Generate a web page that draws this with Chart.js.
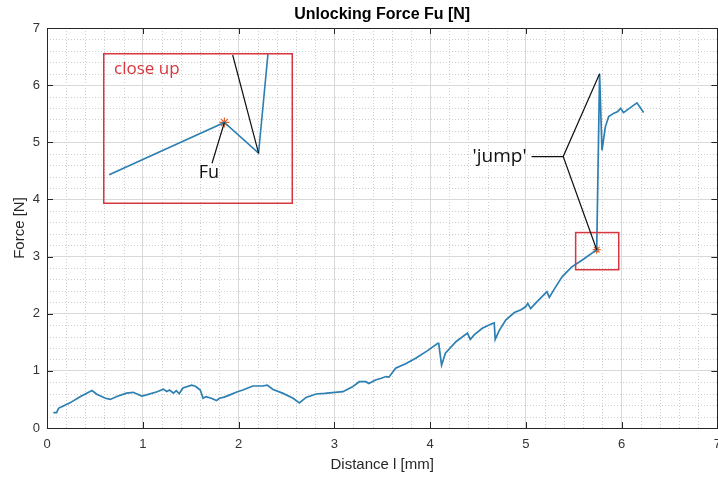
<!DOCTYPE html>
<html>
<head>
<meta charset="utf-8">
<script src="https://cdn.jsdelivr.net/npm/chart.js@4.4.1/dist/chart.umd.min.js"></script>
<style>
  html, body { margin: 0; padding: 0; background: #fff; }
  #wrap { position: relative; width: 718px; height: 477px; overflow: hidden; }
  #main { position: absolute; left: 0; top: 0; }
  #inset { position: absolute; }
</style>
</head>
<body>
<div id="wrap">
  <canvas id="main" width="730" height="477"></canvas>
  <canvas id="inset" width="190" height="151"></canvas>
</div>
<script>
const distance = [0.066, 0.10, 0.12, 0.17, 0.24, 0.35, 0.415, 0.47, 0.52, 0.61,
  0.66, 0.73, 0.83, 0.90, 0.99, 1.04, 1.15, 1.215, 1.25, 1.28,
  1.32, 1.35, 1.38, 1.42, 1.51, 1.55, 1.60, 1.63, 1.66, 1.715,
  1.77, 1.80, 1.85, 1.91, 1.975, 2.045, 2.15, 2.25, 2.30, 2.36,
  2.46, 2.57, 2.635, 2.705, 2.81, 2.90, 2.98, 3.09, 3.19, 3.26,
  3.33, 3.36, 3.43, 3.49, 3.54, 3.57, 3.64, 3.75, 3.85, 3.97,
  4.08, 4.09, 4.12, 4.16, 4.27, 4.39, 4.42, 4.46, 4.545, 4.65,
  4.67, 4.68, 4.72, 4.79, 4.88, 4.95, 5.00, 5.02, 5.05, 5.10,
  5.205, 5.22, 5.245, 5.30, 5.38, 5.48, 5.59, 5.69, 5.74,
  5.77, 5.795, 5.83, 5.865, 5.92, 5.96, 5.99, 6.02, 6.07, 6.16, 6.23];
const force = [0.27, 0.27, 0.345, 0.385, 0.44, 0.55, 0.61, 0.655, 0.59, 0.52,
  0.50, 0.55, 0.61, 0.625, 0.56, 0.58, 0.635, 0.68, 0.64, 0.665,
  0.61, 0.655, 0.60, 0.70, 0.75, 0.73, 0.665, 0.52, 0.55, 0.52,
  0.48, 0.52, 0.54, 0.58, 0.625, 0.665, 0.735, 0.735, 0.75, 0.675,
  0.61, 0.52, 0.44, 0.535, 0.595, 0.605, 0.62, 0.635, 0.72, 0.81,
  0.81, 0.78, 0.84, 0.87, 0.90, 0.89, 1.045, 1.13, 1.22, 1.35,
  1.48, 1.48, 1.10, 1.31, 1.51, 1.66, 1.55, 1.63, 1.745, 1.83,
  1.84, 1.55, 1.70, 1.89, 2.02, 2.07, 2.125, 2.18, 2.09, 2.18,
  2.36, 2.385, 2.285, 2.44, 2.65, 2.82, 2.94, 3.06, 3.12,
  6.20, 4.86, 5.27, 5.45, 5.51, 5.54, 5.595, 5.52, 5.58, 5.69, 5.52];
const xTicks = [0, 1, 2, 3, 4, 5, 6, 7];
const yTicks = [0, 1, 2, 3, 4, 5, 6, 7];

const fuIndex = distance.indexOf(5.74);
const peakIndex = fuIndex + 1;

// close up of the jump
const insetDistance = [5.7026, 5.7511, 5.7655, 5.7725];
const insetForce = [3.058, 3.162, 3.101, 3.45];
const insetFuIndex = 1;
const insetDipIndex = 2;
const insetRangeX = [5.70, 5.78];
const insetRangeY = [3.00, 3.30];

// annotation anchors (data units)
const zoomBoxX = [5.52, 5.97];
const zoomBoxY = [2.77, 3.42];
const insetBoxX = [0.586, 2.566];
const insetBoxY = [3.92, 6.557];
const jumpTail = [5.06, 4.75];
const jumpKnee = [5.39, 4.75];
const fuPointerStart = [5.7459, 3.081];
const fuLabelPos = [5.7446, 3.061];
const insetJumpStart = [5.7546, 3.296];

const curveColor = '#2c7fb2';
const fuColor = '#e0602a';
const annoRed = '#d6363d';

Chart.defaults.font.family = '"Liberation Sans", Arial, sans-serif';

function crisp(v) { return Math.round(v) + 0.5; }

const axesPlugin = {
  id: 'axesPlugin',
  beforeDraw(chart) {
    const {ctx, chartArea: a, scales: {x, y}} = chart;
    ctx.save();
    ctx.strokeStyle = '#cfcfcf';
    ctx.lineWidth = 1;
    ctx.setLineDash([1, 2]);
    ctx.beginPath();
    for (let i = 1; i < 35; i++) {
      if (i % 5 === 0) continue;
      const px = crisp(x.getPixelForValue(i / 5));
      ctx.moveTo(px, a.top); ctx.lineTo(px, a.bottom);
      const py = crisp(y.getPixelForValue(i / 5));
      ctx.moveTo(a.left, py); ctx.lineTo(a.right, py);
    }
    ctx.stroke();
    ctx.restore();
  },
  afterDatasetsDraw(chart) {
    const {ctx, chartArea: a, scales: {x, y}} = chart;
    const P = (d, f) => [x.getPixelForValue(d), y.getPixelForValue(f)];
    ctx.save();
    // box + inward ticks
    ctx.strokeStyle = '#262626';
    ctx.lineWidth = 1;
    ctx.strokeRect(crisp(a.left), crisp(a.top), Math.round(a.right - a.left), Math.round(a.bottom - a.top));
    ctx.beginPath();
    xTicks.forEach(v => {
      const px = crisp(x.getPixelForValue(v));
      ctx.moveTo(px, a.bottom); ctx.lineTo(px, a.bottom - 6);
      ctx.moveTo(px, a.top); ctx.lineTo(px, a.top + 6);
    });
    yTicks.forEach(v => {
      const py = crisp(y.getPixelForValue(v));
      ctx.moveTo(a.left, py); ctx.lineTo(a.left + 6, py);
      ctx.moveTo(a.right, py); ctx.lineTo(a.right - 6, py);
    });
    ctx.stroke();

    // red zoom box
    const b0 = P(zoomBoxX[0], zoomBoxY[1]), b1 = P(zoomBoxX[1], zoomBoxY[0]);
    ctx.strokeStyle = annoRed;
    ctx.lineWidth = 1.5;
    ctx.strokeRect(b0[0], b0[1], b1[0] - b0[0], b1[1] - b0[1]);

    // 'jump' pointer
    const tail = P(jumpTail[0], jumpTail[1]);
    const knee = P(jumpKnee[0], jumpKnee[1]);
    const peak = P(distance[peakIndex], force[peakIndex]);
    const fu = P(distance[fuIndex], force[fuIndex]);
    ctx.strokeStyle = '#111';
    ctx.lineWidth = 1.2;
    ctx.beginPath();
    ctx.moveTo(tail[0], tail[1]); ctx.lineTo(knee[0], knee[1]);
    ctx.lineTo(peak[0], peak[1]);
    ctx.moveTo(knee[0], knee[1]); ctx.lineTo(fu[0], fu[1]);
    ctx.stroke();
    ctx.fillStyle = '#111';
    ctx.font = '19px "Open Sans"';
    ctx.textAlign = 'right';
    ctx.textBaseline = 'middle';
    ctx.fillText("'jump'", tail[0] - 5, tail[1]);

    // title
    ctx.fillStyle = '#000';
    ctx.font = 'bold 16px "Liberation Sans", Arial';
    ctx.textAlign = 'center';
    ctx.fillText('Unlocking Force Fu [N]', (a.left + a.right) / 2, 15);
    ctx.restore();
  }
};

const mainChart = new Chart(document.getElementById('main'), {
  type: 'line',
  data: {
    datasets: [
      {
        data: distance.map((d, i) => ({x: d, y: force[i]})),
        borderColor: curveColor,
        borderWidth: 1.7,
        pointRadius: 0,
        tension: 0
      },
      {
        data: [{x: distance[fuIndex], y: force[fuIndex]}],
        showLine: false,
        pointStyle: 'star',
        pointRadius: 4,
        borderColor: fuColor,
        borderWidth: 1.2
      }
    ]
  },
  options: {
    responsive: false,
    animation: false,
    devicePixelRatio: 1,
    layout: { padding: { top: 28, right: 11, left: 0, bottom: 0 } },
    plugins: { legend: { display: false }, tooltip: { enabled: false } },
    scales: {
      x: {
        type: 'linear', min: 0, max: 7,
        afterBuildTicks: s => { s.ticks = xTicks.map(v => ({value: v})); },
        ticks: { font: { size: 13 }, color: '#333', padding: 9, maxRotation: 0 },
        grid: { color: '#d9d9d9', drawTicks: false },
        border: { display: false },
        title: { display: true, text: 'Distance l [mm]', font: { size: 15 }, color: '#262626', padding: { top: 0, bottom: 3 } },
        afterFit: s => { s.height = 49; }
      },
      y: {
        type: 'linear', min: 0, max: 7,
        afterBuildTicks: s => { s.ticks = yTicks.map(v => ({value: v})); },
        ticks: { font: { size: 13 }, color: '#333', padding: 7 },
        grid: { color: '#d9d9d9', drawTicks: false },
        border: { display: false },
        title: { display: true, text: 'Force [N]', font: { size: 15 }, color: '#262626', padding: { top: 11, bottom: 0 } },
        afterFit: s => { s.width = 47; }
      }
    }
  },
  plugins: [axesPlugin]
});

// place the close-up box
const sx = mainChart.scales.x, sy = mainChart.scales.y;
const boxLeft = Math.round(sx.getPixelForValue(insetBoxX[0]));
const boxRight = Math.round(sx.getPixelForValue(insetBoxX[1]));
const boxTop = Math.round(sy.getPixelForValue(insetBoxY[1]));
const boxBottom = Math.round(sy.getPixelForValue(insetBoxY[0]));
const insetCanvas = document.getElementById('inset');
insetCanvas.style.left = boxLeft + 'px';
insetCanvas.style.top = boxTop + 'px';
insetCanvas.width = boxRight - boxLeft;
insetCanvas.height = boxBottom - boxTop;

const insetPlugin = {
  id: 'insetPlugin',
  afterDatasetsDraw(chart) {
    const {ctx, chartArea: a, scales: {x, y}} = chart;
    const P = (d, f) => [x.getPixelForValue(d), y.getPixelForValue(f)];
    ctx.save();
    ctx.strokeStyle = annoRed;
    ctx.lineWidth = 1.5;
    ctx.strokeRect(0.75, 0.75, chart.width - 1.5, chart.height - 1.5);

    const fu = P(insetDistance[insetFuIndex], insetForce[insetFuIndex]);
    const dip = P(insetDistance[insetDipIndex], insetForce[insetDipIndex]);
    const s1 = P(fuPointerStart[0], fuPointerStart[1]);
    const s2 = P(insetJumpStart[0], insetJumpStart[1]);
    ctx.strokeStyle = '#111';
    ctx.lineWidth = 1.2;
    ctx.beginPath();
    ctx.moveTo(s1[0], s1[1]); ctx.lineTo(fu[0], fu[1]);
    ctx.moveTo(s2[0], s2[1]); ctx.lineTo(dip[0], dip[1]);
    ctx.stroke();

    ctx.fillStyle = '#111';
    ctx.font = '18px "Open Sans"';
    ctx.textAlign = 'center';
    ctx.textBaseline = 'middle';
    const lp = P(fuLabelPos[0], fuLabelPos[1]);
    ctx.fillText('Fu', lp[0], lp[1]);

    ctx.fillStyle = annoRed;
    ctx.font = '17px "Open Sans"';
    ctx.textAlign = 'left';
    ctx.textBaseline = 'alphabetic';
    ctx.fillText('close up', a.left + 11, a.top + 21);
    ctx.restore();
  }
};

new Chart(insetCanvas, {
  type: 'line',
  data: {
    datasets: [
      {
        data: insetDistance.map((d, i) => ({x: d, y: insetForce[i]})),
        borderColor: curveColor,
        borderWidth: 1.6,
        pointRadius: 0,
        tension: 0
      },
      {
        data: [{x: insetDistance[insetFuIndex], y: insetForce[insetFuIndex]}],
        showLine: false,
        pointStyle: 'star',
        pointRadius: 5,
        borderColor: fuColor,
        borderWidth: 1.2
      }
    ]
  },
  options: {
    responsive: false,
    animation: false,
    devicePixelRatio: 1,
    layout: { padding: 0, autoPadding: false },
    plugins: { legend: { display: false }, tooltip: { enabled: false } },
    scales: {
      x: { type: 'linear', display: false, min: insetRangeX[0], max: insetRangeX[1] },
      y: { type: 'linear', display: false, min: insetRangeY[0], max: insetRangeY[1] }
    }
  },
  plugins: [insetPlugin]
});
</script>
</body>
</html>
